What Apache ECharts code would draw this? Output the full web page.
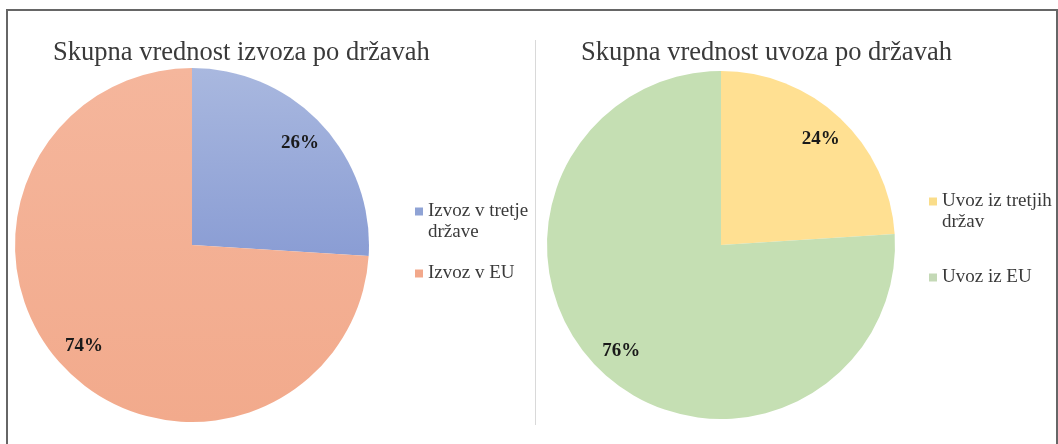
<!DOCTYPE html>
<html>
<head>
  <meta charset='utf-8'>
  <script src="https://cdn.jsdelivr.net/npm/echarts@6/dist/echarts.min.js"></script>
  <title>Izvoz / uvoz po državah</title>
  <style>
    html, body { margin: 0; padding: 0; background: #fff; }
    #main { width: 1058px; height: 444px; }
  </style>
</head>
<body>
<div id="main"></div>
<script type="text/javascript">
  // podatki (deleži v %)
  var exportNames = ['Izvoz v tretje države', 'Izvoz v EU'];
  var exportShares = [26, 74];
  var importNames = ['Uvoz iz tretjih držav', 'Uvoz iz EU'];
  var importShares = [24, 76];

  var serif = '"Liberation Serif", "DejaVu Serif", serif';

  // barve rezin
  var exportColors = [
    new echarts.graphic.LinearGradient(0, 0, 0, 1, [
      { offset: 0, color: '#A9B8DF' }, { offset: 1, color: '#8A9DD4' }
    ]),
    new echarts.graphic.LinearGradient(0, 0, 0, 1, [
      { offset: 0, color: '#F5B69C' }, { offset: 1, color: '#F2AA8C' }
    ])
  ];
  var importColors = ['#FFE092', '#C5DFB3'];
  var exportIcons = ['#8FA3D5', '#F2A88B'];
  var importIcons = ['#FADD8A', '#C4D9B6'];

  function pieData(names, values, colors) {
    return names.map(function (n, i) {
      return { name: n, value: values[i], itemStyle: { color: colors[i] } };
    });
  }

  // prosojna plast samo za oznake (da so bližje robu kot 'inside')
  function labelSeries(names, values, center, r) {
    return {
      type: 'pie',
      silent: true,
      center: center,
      radius: [r * 0.64, r],
      itemStyle: { color: 'rgba(0,0,0,0)' },
      label: {
        show: true,
        position: 'inside',
        formatter: '{c}%',
        fontFamily: serif,
        fontWeight: 'bold',
        fontSize: 19,
        color: '#1a1a1a'
      },
      labelLine: { show: false },
      emphasis: { disabled: true },
      data: names.map(function (n, i) { return { name: n + ' ', value: values[i] }; })
    };
  }

  function legendData(names, icons) {
    return names.map(function (n, i) {
      return { name: n, itemStyle: { color: icons[i] } };
    });
  }

  // prva (dvovrstična) postavka: ikona poravnana s prvo vrstico
  function legendFormatter(names) {
    return function (name) {
      return name === names[0] ? '\n' + name : name;
    };
  }

  var myChart = echarts.init(document.getElementById('main'));

  var option = {
    backgroundColor: '#FFFFFF',
    animation: false,
    title: [{
      text: 'Skupna vrednost izvoza po državah',
      left: 53, top: 40, padding: 0,
      textStyle: { fontFamily: serif, fontWeight: 'normal', fontSize: 26.5, color: '#3a3a3a' }
    }, {
      text: 'Skupna vrednost uvoza po državah',
      left: 581, top: 40, padding: 0,
      textStyle: { fontFamily: serif, fontWeight: 'normal', fontSize: 26.5, color: '#3a3a3a' }
    }],
    legend: [{
      orient: 'vertical',
      left: 415, top: 180, padding: 0,
      itemWidth: 8, itemHeight: 8, itemGap: 20,
      icon: 'rect',
      selectedMode: false,
      formatter: legendFormatter(exportNames),
      textStyle: { fontFamily: serif, fontSize: 19, lineHeight: 21, color: '#3a3a3a', width: 112, overflow: 'break' },
      data: legendData(exportNames, exportIcons)
    }, {
      orient: 'vertical',
      left: 929, top: 170, padding: 0,
      itemWidth: 8, itemHeight: 8, itemGap: 34,
      icon: 'rect',
      selectedMode: false,
      formatter: legendFormatter(importNames),
      textStyle: { fontFamily: serif, fontSize: 19, lineHeight: 21, color: '#3a3a3a', width: 124, overflow: 'break' },
      data: legendData(importNames, importIcons)
    }],
    graphic: [{
      type: 'rect',
      shape: { x: 7, y: 10, width: 1050, height: 460 },
      style: { fill: 'none', stroke: '#666', lineWidth: 2 },
      silent: true
    }, {
      type: 'line',
      shape: { x1: 535.5, y1: 40, x2: 535.5, y2: 425 },
      style: { stroke: '#d9d9d9', lineWidth: 1 },
      silent: true
    }],
    series: [{
      name: 'Izvoz',
      type: 'pie',
      center: [192, 245],
      radius: 177,
      startAngle: 90,
      label: { show: false },
      labelLine: { show: false },
      data: pieData(exportNames, exportShares, exportColors)
    },
    labelSeries(exportNames, exportShares, [192, 245], 177),
    {
      name: 'Uvoz',
      type: 'pie',
      center: [721, 245],
      radius: 174,
      startAngle: 90,
      label: { show: false },
      labelLine: { show: false },
      data: pieData(importNames, importShares, importColors)
    },
    labelSeries(importNames, importShares, [721, 245], 174)
    ]
  };

  myChart.setOption(option);

  window.addEventListener('resize', function () {
    myChart.resize()
  })
</script>
</body>
</html>
